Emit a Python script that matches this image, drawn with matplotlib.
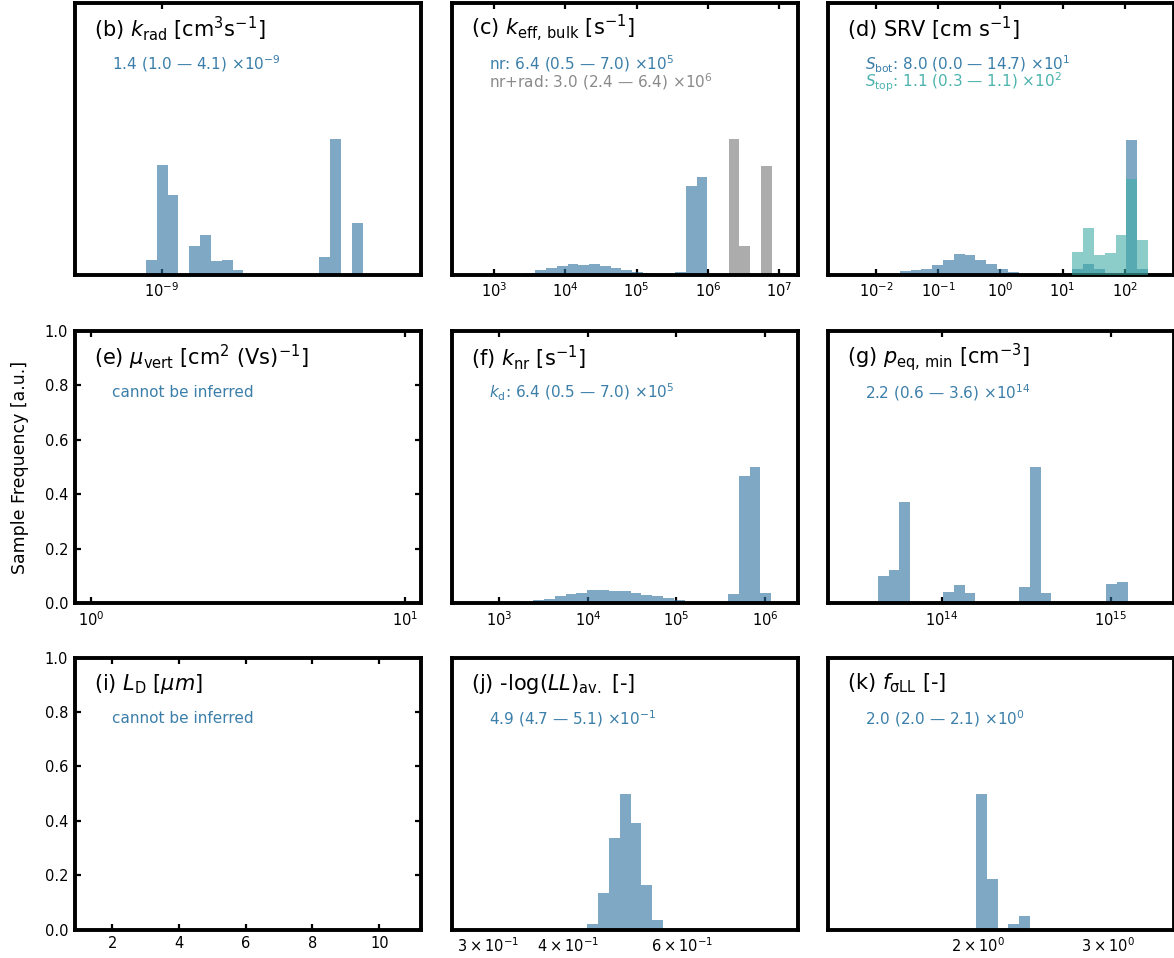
import numpy as np
import matplotlib
matplotlib.use("Agg")
import matplotlib.pyplot as plt
from matplotlib.ticker import NullLocator

# ---------------------------------------------------------------------------
# Posterior histograms (bar heights, bins given as start exponent + width in
# decades of a log10 grid)
# ---------------------------------------------------------------------------
# (b) k_rad
krad_bin_start, krad_bin_dec = -9.054, 0.03768
krad_heights = [0.053, 0.404, 0.292, 0.0, 0.104, 0.146, 0.049, 0.053, 0.016,
                0.0, 0.0, 0.0, 0.0, 0.0, 0.0, 0.0, 0.064, 0.50, 0.0, 0.19]

# (c) k_eff,bulk : non-radiative (blue) and non-radiative + radiative (grey)
keff_bin_start, keff_bin_dec = 3.431, 0.1505
keff_nr_heights = [0.006, 0.016, 0.025, 0.033, 0.037, 0.034, 0.037, 0.031,
                   0.023, 0.018, 0.011, 0.004, 0.001, 0.001, 0.009, 0.326,
                   0.36, 0.0, 0.0, 0.0, 0.0, 0.0, 0.0]
keff_tot_heights = [0.0] * 19 + [0.497, 0.105, 0.0, 0.40]

# (d) SRV : bottom (blue) and top (teal) surfaces
srv_bin_start, srv_bin_dec = -1.616, 0.1734
srv_bot_heights = [0.012, 0.016, 0.021, 0.034, 0.053, 0.074, 0.071, 0.055,
                   0.037, 0.021, 0.009, 0.0, 0.0, 0.0, 0.0, 0.0,
                   0.02, 0.04, 0.02, 0.0, 0.0, 0.495, 0.02]
srv_top_heights = [0.0] * 16 + [0.082, 0.17, 0.072, 0.078, 0.146, 0.352, 0.127]

# (f) k_nr
knr_bin_start, knr_bin_dec = 3.382, 0.1222
knr_heights = [0.010, 0.016, 0.024, 0.034, 0.038, 0.049, 0.046, 0.043, 0.044,
               0.037, 0.028, 0.026, 0.020, 0.012, 0.004, 0.0, 0.0, 0.0,
               0.034, 0.468, 0.50, 0.037]

# (g) p_eq,min
peq_bin_start, peq_bin_dec = 13.621, 0.0643
peq_heights = [0.098, 0.120, 0.372, 0.0, 0.0, 0.0, 0.042, 0.067, 0.037,
               0.0, 0.0, 0.0, 0.0, 0.059, 0.50, 0.037, 0.0, 0.0, 0.0, 0.0,
               0.0, 0.071, 0.076]

# (j) -log(LL)_av.
ll_bin_start, ll_bin_dec = -0.3689, 0.01685
ll_heights = [0.022, 0.136, 0.337, 0.50, 0.39, 0.163, 0.034]

# (k) f_sigmaLL
fs_bin_start, fs_bin_dec = 0.2983, 0.01464
fs_heights = [0.50, 0.184, 0.0, 0.02, 0.049]

# Axis ranges
xlims = {
    "b": (5.0e-10, 8.0e-9),
    "c": (10 ** 2.411, 10 ** 7.262),
    "d": (10 ** -2.77, 10 ** 2.79),
    "e": (10 ** -0.051, 10 ** 1.051),
    "f": (10 ** 2.466, 10 ** 6.373),
    "g": (10 ** 13.327, 10 ** 15.375),
    "i": (0.889, 11.25),
    "j": (0.2638, 0.9089),
    "k": (1.254, 3.684),
}

# Panel titles and summary statistics
titles = {
    "b": "(b) $k_\\mathrm{rad}$ [cm$^3$s$^{-1}$]",
    "c": "(c) $k_\\mathrm{eff,\\,bulk}$ [s$^{-1}$]",
    "d": "(d) SRV [cm s$^{-1}$]",
    "e": "(e) $\\mu_\\mathrm{vert}$ [cm$^2$ (Vs)$^{-1}$]",
    "f": "(f) $k_\\mathrm{nr}$ [s$^{-1}$]",
    "g": "(g) $p_\\mathrm{eq,\\,min}$ [cm$^{-3}$]",
    "i": "(i) $L_\\mathrm{D}$ [$\\mu m$]",
    "j": "(j) -log($LL$)$_\\mathrm{av.}$ [-]",
    "k": "(k) $f_\\mathrm{σLL}$ [-]",
}

BLUE = "#2a6f9e"
GREY = "#767676"
TEAL = "#3fada6"
BLUE_TXT = "#3a7ea9"
GREY_TXT = "#8a8a8a"
TEAL_TXT = "#4cb3ad"

DASH = "\u2014"
TIMES = "\u00d7"

stats = {
    "b": [(f"1.4 (1.0 {DASH} 4.1) {TIMES}10$^{{-9}}$", BLUE_TXT)],
    "c": [(f"nr: 6.4 (0.5 {DASH} 7.0) {TIMES}10$^{{5}}$", BLUE_TXT),
          (f"nr+rad: 3.0 (2.4 {DASH} 6.4) {TIMES}10$^{{6}}$", GREY_TXT)],
    "d": [(f"$S_\\mathrm{{bot}}$: 8.0 (0.0 {DASH} 14.7) {TIMES}10$^{{1}}$", BLUE_TXT),
          (f"$S_\\mathrm{{top}}$: 1.1 (0.3 {DASH} 1.1) {TIMES}10$^{{2}}$", TEAL_TXT)],
    "e": [("cannot be inferred", BLUE_TXT)],
    "f": [(f"$k_\\mathrm{{d}}$: 6.4 (0.5 {DASH} 7.0) {TIMES}10$^{{5}}$", BLUE_TXT)],
    "g": [(f"2.2 (0.6 {DASH} 3.6) {TIMES}10$^{{14}}$", BLUE_TXT)],
    "i": [("cannot be inferred", BLUE_TXT)],
    "j": [(f"4.9 (4.7 {DASH} 5.1) {TIMES}10$^{{-1}}$", BLUE_TXT)],
    "k": [(f"2.0 (2.0 {DASH} 2.1) {TIMES}10$^{{0}}$", BLUE_TXT)],
}

plt.rcParams["font.family"] = ["DejaVu Sans"]
plt.rcParams["mathtext.fontset"] = "dejavusans"

fig = plt.figure(figsize=(11.74, 9.58), dpi=100)

W, H = 1174.0, 958.0
col_left = [75, 452, 828]
row_bottom = [274.5, 603.0, 929.5]
ax_w, ax_h = 346, 272

layout = [["b", "c", "d"], ["e", "f", "g"], ["i", "j", "k"]]
axes = {}
for r, row in enumerate(layout):
    for c, key in enumerate(row):
        ax = fig.add_axes([col_left[c] / W, (H - row_bottom[r]) / H,
                           ax_w / W, ax_h / H])
        axes[key] = ax


def log_hist(ax, start, dec, heights, color, alpha=0.6, zorder=2):
    heights = np.asarray(heights, dtype=float)
    edges = 10.0 ** (start + dec * np.arange(len(heights) + 1))
    ax.bar(edges[:-1], heights, width=np.diff(edges), align="edge",
           color=color, alpha=alpha, linewidth=0, zorder=zorder)


log_hist(axes["b"], krad_bin_start, krad_bin_dec, krad_heights, BLUE)
log_hist(axes["c"], keff_bin_start, keff_bin_dec, keff_nr_heights, BLUE)
log_hist(axes["c"], keff_bin_start, keff_bin_dec, keff_tot_heights, GREY)
log_hist(axes["d"], srv_bin_start, srv_bin_dec, srv_bot_heights, BLUE)
log_hist(axes["d"], srv_bin_start, srv_bin_dec, srv_top_heights, TEAL, zorder=3)
log_hist(axes["f"], knr_bin_start, knr_bin_dec, knr_heights, BLUE)
log_hist(axes["g"], peq_bin_start, peq_bin_dec, peq_heights, BLUE)
log_hist(axes["j"], ll_bin_start, ll_bin_dec, ll_heights, BLUE)
log_hist(axes["k"], fs_bin_start, fs_bin_dec, fs_heights, BLUE)

for key, ax in axes.items():
    if key != "i":
        ax.set_xscale("log")
    ax.set_xlim(*xlims[key])
    ax.set_ylim(0, 1)
    for sp in ax.spines.values():
        sp.set_linewidth(2.8)
        sp.set_color("black")
    ax.tick_params(axis="both", which="major", direction="in", length=4.5,
                   width=1.6, labelsize=10.5, top=True, right=True, pad=5)
    ax.tick_params(axis="both", which="minor", length=0, width=0,
                   labelsize=10.5, top=True, right=True, pad=5)
    if key in ("e", "i"):
        ax.set_yticks([0.0, 0.2, 0.4, 0.6, 0.8, 1.0])
    else:
        ax.set_yticks([])
    ax.yaxis.set_minor_locator(NullLocator())

    ax.text(0.055, 0.904, titles[key], transform=ax.transAxes,
            fontsize=15, va="center", ha="left")
    for n, (txt, col) in enumerate(stats[key]):
        ax.text(0.106, 0.774 - n * 0.066, txt, transform=ax.transAxes,
                fontsize=11, va="center", ha="left", color=col)

axes["e"].set_ylabel("Sample Frequency [a.u.]", fontsize=12.5, labelpad=11)

fig.savefig("out.png", dpi=100)
